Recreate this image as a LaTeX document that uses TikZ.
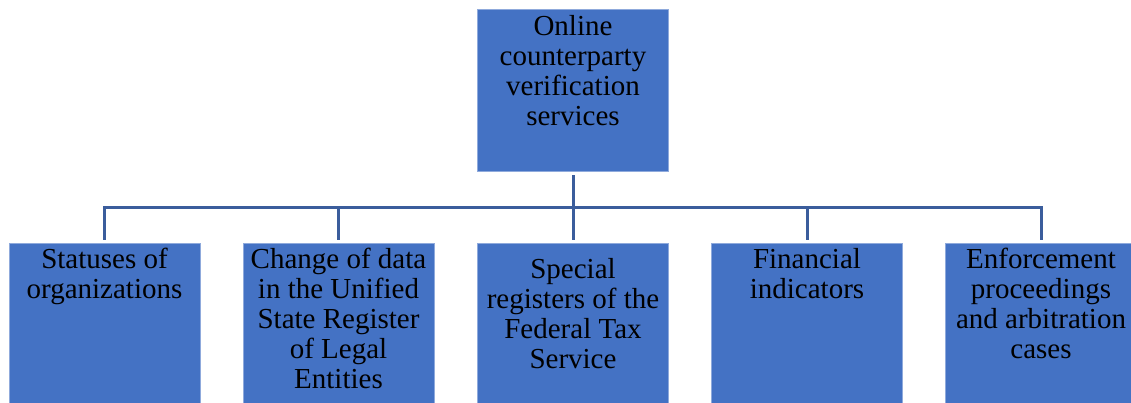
\documentclass[tikz,border=0pt]{standalone}
\usepackage{fontspec}
\setmainfont{Liberation Serif}
\definecolor{boxfill}{RGB}{68,114,196}
\definecolor{boxedge}{RGB}{143,170,220}
\definecolor{connline}{RGB}{59,93,156}
\newcommand{\boxtxt}[3]{\parbox[b][#1][t]{189pt}{\centering\fontsize{29}{30}\selectfont\vspace*{#2}\strut #3}}
\tikzset{
  orgbox/.style={draw=boxedge, line width=1pt, fill=boxfill, inner sep=0pt,
    minimum width=191pt, rectangle, text=black},
  conn/.style={draw=connline, line width=3pt}
}
\begin{document}
\begin{tikzpicture}[x=1pt,y=-1pt]
\clip (0,0) rectangle (1131,403);
\fill[white] (0,0) rectangle (1131,403);
\node[orgbox, minimum height=162pt] (top) at (573,91)
  {\boxtxt{162pt}{5pt}{Online\\counterparty\\verification\\services}};
\node[orgbox, minimum height=170pt] (b1) at (104.5,328.5)
  {\boxtxt{170pt}{3.5pt}{Statuses of\\organizations}};
\node[orgbox, minimum height=170pt] (b2) at (338.5,328.5)
  {\boxtxt{170pt}{3.5pt}{Change of data\\in the Unified\\State Register\\of Legal\\Entities}};
\node[orgbox, minimum height=170pt] (b3) at (573,328.5)
  {\boxtxt{170pt}{13.5pt}{Special\\registers of the\\Federal Tax\\Service}};
\node[orgbox, minimum height=170pt] (b4) at (807,328.5)
  {\boxtxt{170pt}{3.5pt}{Financial\\indicators}};
\node[orgbox, minimum height=170pt] (b5) at (1041,328.5)
  {\boxtxt{170pt}{4pt}{Enforcement\\proceedings\\and arbitration\\cases}};
\coordinate (hub) at (573,208);
\draw[conn, shorten <=3pt] (top.south) -- (hub);
\draw[conn, shorten <=3.5pt, shorten >=3.5pt] (b1.north) -- (b1.north |- hub) -- (b5.north |- hub) -- (b5.north);
\draw[conn, shorten >=3.5pt] (hub -| b2.north) -- (b2.north);
\draw[conn, shorten >=3.5pt] (hub) -- (b3.north);
\draw[conn, shorten >=3.5pt] (hub -| b4.north) -- (b4.north);
\end{tikzpicture}
\end{document}
